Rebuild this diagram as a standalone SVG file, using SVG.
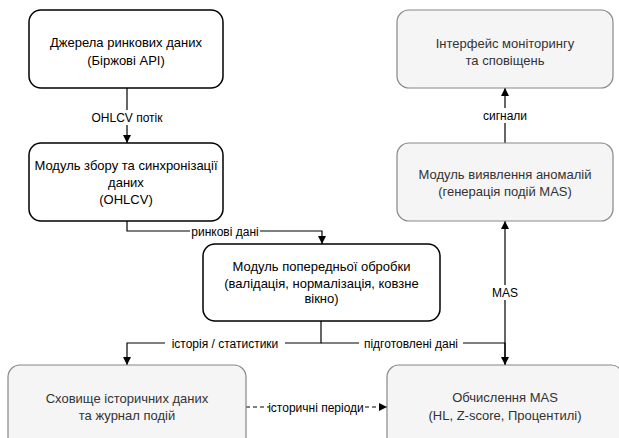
<svg xmlns="http://www.w3.org/2000/svg" width="619" height="438" viewBox="0 0 619 438">
<defs>
<marker id="arr" viewBox="0 0 10 10" refX="10" refY="5" markerWidth="8" markerHeight="8" markerUnits="userSpaceOnUse" orient="auto">
<path d="M0,0 L10,5 L0,10 Z" fill="#000"/>
</marker>
</defs>
<style>
.b{fill:#fff;stroke:#000;stroke-width:1.5}
.g{fill:#f5f5f5;stroke:#888;stroke-width:1.2}
.t{font-family:"Liberation Sans",Arial,sans-serif;font-size:13px;fill:#000;text-anchor:middle}
.tg{font-family:"Liberation Sans",Arial,sans-serif;font-size:13px;fill:#333;text-anchor:middle}
.e{fill:none;stroke:#000;stroke-width:1.2}
.d{stroke-dasharray:4 3}
.l{font-family:"Liberation Sans",Arial,sans-serif;font-size:12px;fill:#000;text-anchor:middle}
.lb{fill:#fff}
</style>
<rect width="619" height="438" fill="#fff"/>
<g id="connectors">
<path class="e" d="M127,88 V143" marker-end="url(#arr)"/>
<path class="e" d="M127,221 V231 H322 V244" marker-end="url(#arr)"/>
<path class="e" d="M505,143 V88" marker-end="url(#arr)"/>
<path class="e" d="M321,321 V343 H127 V365" marker-end="url(#arr)"/>
<path class="e" d="M321,343 H505 V365" marker-end="url(#arr)"/>
<path class="e" d="M505,365 V221" marker-end="url(#arr)"/>
<path class="e d" d="M246,407 H387" marker-end="url(#arr)"/>
<rect class="lb" x="89" y="110" width="76" height="15"/>
<text class="l" x="127" y="121.5">OHLCV потік</text>
<rect class="lb" x="482" y="108" width="46" height="15"/>
<text class="l" x="505" y="119.5">сигнали</text>
<rect class="lb" x="190" y="224" width="70" height="15"/>
<text class="l" x="225" y="235.5">ринкові дані</text>
<rect class="lb" x="490" y="285" width="30" height="15"/>
<text class="l" x="505" y="296.5">MAS</text>
<rect class="lb" x="165" y="336" width="120" height="15"/>
<text class="l" x="225" y="347.5">історія / статистики</text>
<rect class="lb" x="359" y="336" width="104" height="15"/>
<text class="l" x="411" y="347.5">підготовлені дані</text>
<rect class="lb" x="269" y="400" width="95" height="15"/>
<text class="l" x="316" y="411.5">історичні періоди</text>
</g>
<g id="n1">
<rect class="b" x="29" y="10" width="194" height="78" rx="12"/>
<text class="t" x="126" y="46.5">Джерела ринкових даних</text>
<text class="t" x="126" y="64.5">(Біржові API)</text>
</g>
<g id="n2">
<rect class="b" x="29" y="143" width="194" height="78" rx="12"/>
<text class="t" x="126" y="170">Модуль збору та синхронізації</text>
<text class="t" x="126" y="187">даних</text>
<text class="t" x="126" y="204">(OHLCV)</text>
</g>
<g id="n3">
<rect class="b" x="203" y="244" width="237" height="77" rx="12"/>
<text class="t" x="321.5" y="271">Модуль попередньої обробки</text>
<text class="t" x="321.5" y="288">(валідація, нормалізація, ковзне</text>
<text class="t" x="321.5" y="303">вікно)</text>
</g>
<g id="n4">
<rect class="g" x="397" y="10" width="216" height="78" rx="12"/>
<text class="tg" x="505" y="47.5">Інтерфейс моніторингу</text>
<text class="tg" x="505" y="64.5">та сповіщень</text>
</g>
<g id="n5">
<rect class="g" x="397" y="143" width="216" height="78" rx="12"/>
<text class="tg" x="505" y="178.5">Модуль виявлення аномалій</text>
<text class="tg" x="505" y="196">(генерація подій MAS)</text>
</g>
<g id="n6">
<rect class="g" x="8" y="365" width="238" height="84" rx="12"/>
<text class="tg" x="127" y="402.5">Сховище історичних даних</text>
<text class="tg" x="127" y="419.5">та журнал подій</text>
</g>
<g id="n7">
<rect class="g" x="387" y="365" width="236" height="84" rx="12"/>
<text class="tg" x="505" y="401.5">Обчислення MAS</text>
<text class="tg" x="505" y="419.5">(HL, Z-score, Процентилі)</text>
</g>
</svg>
